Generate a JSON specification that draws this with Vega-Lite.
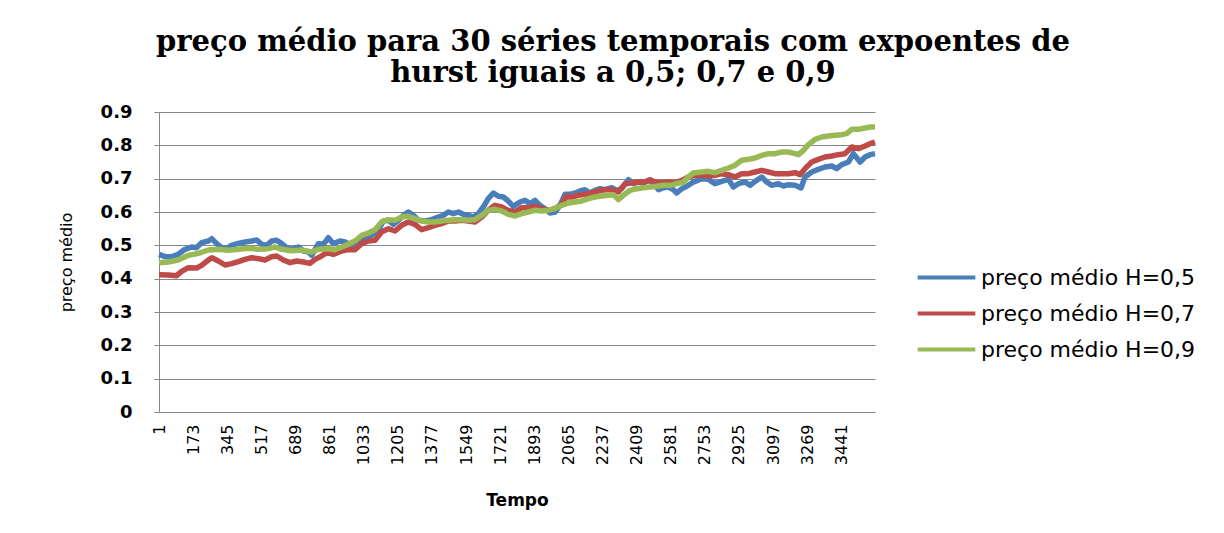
{
  "$schema": "https://vega.github.io/schema/vega-lite/v6.json",
  "width": 716,
  "height": 300,
  "autosize": {"type": "none"},
  "padding": {"left": 159, "top": 112, "right": 349, "bottom": 121},
  "background": "white",
  "title": {
    "text": ["preço médio para 30 séries temporais com expoentes de", "hurst iguais a 0,5; 0,7 e 0,9"],
    "font": "DejaVu Serif",
    "fontWeight": "bold",
    "fontSize": 29,
    "lineHeight": 31,
    "anchor": "middle",
    "frame": "group",
    "dx": 96,
    "offset": 15,
    "color": "black"
  },
  "config": {
    "view": {"stroke": null},
    "axis": {"domainColor": "#868686", "gridColor": "#868686", "tickColor": "#868686", "labelColor": "black", "titleColor": "black"},
    "legend": {"orient": "none", "legendX": 767, "legendY": 145}
  },
  "datasets": {
    "h05": [
      {"t":1,"v":0.473},{"t":31,"v":0.466},{"t":65,"v":0.466},{"t":98,"v":0.473},{"t":132,"v":0.488},{"t":166,"v":0.495},{"t":191,"v":0.493},{"t":216,"v":0.508},{"t":250,"v":0.513},{"t":267,"v":0.52},{"t":292,"v":0.505},{"t":317,"v":0.493},{"t":342,"v":0.49},{"t":367,"v":0.5},{"t":401,"v":0.506},{"t":435,"v":0.51},{"t":468,"v":0.513},{"t":494,"v":0.516},{"t":519,"v":0.503},{"t":544,"v":0.5},{"t":569,"v":0.513},{"t":594,"v":0.515},{"t":620,"v":0.505},{"t":645,"v":0.493},{"t":670,"v":0.488},{"t":704,"v":0.495},{"t":729,"v":0.483},{"t":754,"v":0.48},{"t":771,"v":0.47},{"t":788,"v":0.488},{"t":805,"v":0.505},{"t":830,"v":0.503},{"t":855,"v":0.523},{"t":880,"v":0.505},{"t":913,"v":0.513},{"t":939,"v":0.51},{"t":972,"v":0.5},{"t":1006,"v":0.513},{"t":1040,"v":0.523},{"t":1073,"v":0.53},{"t":1107,"v":0.545},{"t":1132,"v":0.573},{"t":1157,"v":0.575},{"t":1183,"v":0.563},{"t":1208,"v":0.575},{"t":1233,"v":0.59},{"t":1258,"v":0.6},{"t":1283,"v":0.59},{"t":1309,"v":0.575},{"t":1342,"v":0.573},{"t":1376,"v":0.577},{"t":1409,"v":0.585},{"t":1435,"v":0.59},{"t":1460,"v":0.6},{"t":1485,"v":0.595},{"t":1510,"v":0.6},{"t":1535,"v":0.593},{"t":1561,"v":0.59},{"t":1586,"v":0.585},{"t":1611,"v":0.595},{"t":1636,"v":0.615},{"t":1661,"v":0.64},{"t":1687,"v":0.657},{"t":1712,"v":0.647},{"t":1737,"v":0.645},{"t":1762,"v":0.633},{"t":1787,"v":0.617},{"t":1821,"v":0.63},{"t":1846,"v":0.635},{"t":1872,"v":0.625},{"t":1897,"v":0.635},{"t":1922,"v":0.62},{"t":1947,"v":0.61},{"t":1972,"v":0.597},{"t":1998,"v":0.6},{"t":2023,"v":0.62},{"t":2048,"v":0.653},{"t":2073,"v":0.653},{"t":2099,"v":0.657},{"t":2124,"v":0.663},{"t":2149,"v":0.667},{"t":2174,"v":0.657},{"t":2199,"v":0.665},{"t":2225,"v":0.67},{"t":2250,"v":0.667},{"t":2283,"v":0.673},{"t":2309,"v":0.665},{"t":2334,"v":0.67},{"t":2368,"v":0.697},{"t":2393,"v":0.685},{"t":2418,"v":0.69},{"t":2443,"v":0.687},{"t":2468,"v":0.695},{"t":2494,"v":0.687},{"t":2519,"v":0.667},{"t":2544,"v":0.673},{"t":2569,"v":0.675},{"t":2594,"v":0.667},{"t":2611,"v":0.657},{"t":2637,"v":0.67},{"t":2662,"v":0.677},{"t":2687,"v":0.687},{"t":2704,"v":0.692},{"t":2737,"v":0.7},{"t":2771,"v":0.698},{"t":2804,"v":0.685},{"t":2838,"v":0.692},{"t":2872,"v":0.698},{"t":2897,"v":0.675},{"t":2922,"v":0.685},{"t":2956,"v":0.69},{"t":2981,"v":0.68},{"t":3014,"v":0.695},{"t":3040,"v":0.705},{"t":3065,"v":0.69},{"t":3090,"v":0.68},{"t":3124,"v":0.685},{"t":3149,"v":0.678},{"t":3174,"v":0.682},{"t":3208,"v":0.68},{"t":3238,"v":0.672},{"t":3258,"v":0.705},{"t":3292,"v":0.72},{"t":3325,"v":0.728},{"t":3359,"v":0.735},{"t":3393,"v":0.738},{"t":3418,"v":0.73},{"t":3443,"v":0.742},{"t":3477,"v":0.75},{"t":3502,"v":0.775},{"t":3536,"v":0.75},{"t":3561,"v":0.765},{"t":3586,"v":0.772},{"t":3611,"v":0.775}
    ],
    "h07": [
      {"t":1,"v":0.412},{"t":48,"v":0.411},{"t":90,"v":0.409},{"t":115,"v":0.422},{"t":149,"v":0.433},{"t":191,"v":0.432},{"t":216,"v":0.44},{"t":250,"v":0.456},{"t":267,"v":0.463},{"t":300,"v":0.453},{"t":334,"v":0.441},{"t":367,"v":0.445},{"t":401,"v":0.451},{"t":435,"v":0.458},{"t":468,"v":0.463},{"t":502,"v":0.46},{"t":536,"v":0.456},{"t":569,"v":0.466},{"t":594,"v":0.468},{"t":628,"v":0.456},{"t":662,"v":0.448},{"t":695,"v":0.453},{"t":729,"v":0.45},{"t":762,"v":0.446},{"t":788,"v":0.458},{"t":821,"v":0.468},{"t":847,"v":0.478},{"t":880,"v":0.473},{"t":922,"v":0.483},{"t":955,"v":0.487},{"t":989,"v":0.487},{"t":1023,"v":0.505},{"t":1056,"v":0.513},{"t":1090,"v":0.515},{"t":1123,"v":0.54},{"t":1157,"v":0.55},{"t":1191,"v":0.543},{"t":1224,"v":0.56},{"t":1258,"v":0.57},{"t":1291,"v":0.563},{"t":1325,"v":0.547},{"t":1359,"v":0.553},{"t":1392,"v":0.56},{"t":1426,"v":0.565},{"t":1460,"v":0.573},{"t":1493,"v":0.573},{"t":1527,"v":0.575},{"t":1560,"v":0.573},{"t":1594,"v":0.57},{"t":1628,"v":0.585},{"t":1661,"v":0.605},{"t":1695,"v":0.62},{"t":1729,"v":0.615},{"t":1762,"v":0.605},{"t":1796,"v":0.6},{"t":1830,"v":0.613},{"t":1863,"v":0.613},{"t":1897,"v":0.617},{"t":1930,"v":0.61},{"t":1964,"v":0.605},{"t":1998,"v":0.61},{"t":2031,"v":0.623},{"t":2057,"v":0.647},{"t":2082,"v":0.645},{"t":2115,"v":0.65},{"t":2149,"v":0.653},{"t":2183,"v":0.657},{"t":2216,"v":0.663},{"t":2250,"v":0.667},{"t":2283,"v":0.667},{"t":2317,"v":0.66},{"t":2351,"v":0.685},{"t":2384,"v":0.687},{"t":2418,"v":0.69},{"t":2452,"v":0.69},{"t":2477,"v":0.697},{"t":2502,"v":0.69},{"t":2536,"v":0.687},{"t":2569,"v":0.69},{"t":2603,"v":0.687},{"t":2637,"v":0.695},{"t":2670,"v":0.705},{"t":2704,"v":0.71},{"t":2737,"v":0.71},{"t":2771,"v":0.708},{"t":2804,"v":0.71},{"t":2838,"v":0.715},{"t":2872,"v":0.712},{"t":2905,"v":0.705},{"t":2939,"v":0.715},{"t":2972,"v":0.715},{"t":3006,"v":0.72},{"t":3040,"v":0.725},{"t":3073,"v":0.72},{"t":3107,"v":0.715},{"t":3141,"v":0.715},{"t":3174,"v":0.715},{"t":3208,"v":0.718},{"t":3233,"v":0.712},{"t":3258,"v":0.73},{"t":3292,"v":0.75},{"t":3325,"v":0.758},{"t":3359,"v":0.765},{"t":3393,"v":0.768},{"t":3426,"v":0.772},{"t":3460,"v":0.775},{"t":3494,"v":0.795},{"t":3527,"v":0.79},{"t":3561,"v":0.798},{"t":3586,"v":0.805},{"t":3611,"v":0.81}
    ],
    "h09": [
      {"t":1,"v":0.448},{"t":48,"v":0.45},{"t":98,"v":0.456},{"t":149,"v":0.47},{"t":199,"v":0.476},{"t":250,"v":0.486},{"t":300,"v":0.488},{"t":351,"v":0.485},{"t":401,"v":0.488},{"t":452,"v":0.491},{"t":502,"v":0.488},{"t":552,"v":0.49},{"t":586,"v":0.495},{"t":620,"v":0.488},{"t":670,"v":0.484},{"t":720,"v":0.486},{"t":771,"v":0.48},{"t":805,"v":0.488},{"t":855,"v":0.49},{"t":888,"v":0.487},{"t":922,"v":0.495},{"t":955,"v":0.503},{"t":989,"v":0.513},{"t":1023,"v":0.53},{"t":1056,"v":0.537},{"t":1090,"v":0.547},{"t":1123,"v":0.57},{"t":1157,"v":0.577},{"t":1191,"v":0.575},{"t":1224,"v":0.585},{"t":1258,"v":0.587},{"t":1291,"v":0.58},{"t":1325,"v":0.573},{"t":1359,"v":0.57},{"t":1392,"v":0.57},{"t":1426,"v":0.573},{"t":1460,"v":0.575},{"t":1493,"v":0.577},{"t":1527,"v":0.577},{"t":1560,"v":0.575},{"t":1594,"v":0.577},{"t":1628,"v":0.59},{"t":1661,"v":0.605},{"t":1695,"v":0.608},{"t":1729,"v":0.603},{"t":1762,"v":0.593},{"t":1796,"v":0.588},{"t":1830,"v":0.595},{"t":1863,"v":0.6},{"t":1897,"v":0.605},{"t":1930,"v":0.603},{"t":1964,"v":0.605},{"t":1998,"v":0.61},{"t":2031,"v":0.62},{"t":2065,"v":0.627},{"t":2099,"v":0.63},{"t":2132,"v":0.633},{"t":2166,"v":0.64},{"t":2199,"v":0.645},{"t":2233,"v":0.648},{"t":2267,"v":0.65},{"t":2292,"v":0.652},{"t":2317,"v":0.637},{"t":2342,"v":0.65},{"t":2376,"v":0.665},{"t":2410,"v":0.67},{"t":2443,"v":0.673},{"t":2477,"v":0.675},{"t":2510,"v":0.677},{"t":2544,"v":0.68},{"t":2578,"v":0.68},{"t":2611,"v":0.685},{"t":2645,"v":0.69},{"t":2670,"v":0.705},{"t":2695,"v":0.717},{"t":2737,"v":0.72},{"t":2771,"v":0.722},{"t":2804,"v":0.718},{"t":2838,"v":0.725},{"t":2872,"v":0.732},{"t":2905,"v":0.74},{"t":2939,"v":0.755},{"t":2972,"v":0.758},{"t":3006,"v":0.762},{"t":3040,"v":0.77},{"t":3073,"v":0.775},{"t":3107,"v":0.775},{"t":3141,"v":0.78},{"t":3174,"v":0.78},{"t":3208,"v":0.775},{"t":3225,"v":0.772},{"t":3250,"v":0.785},{"t":3275,"v":0.802},{"t":3309,"v":0.818},{"t":3342,"v":0.825},{"t":3376,"v":0.828},{"t":3410,"v":0.83},{"t":3443,"v":0.832},{"t":3468,"v":0.835},{"t":3494,"v":0.848},{"t":3527,"v":0.848},{"t":3561,"v":0.852},{"t":3586,"v":0.855},{"t":3611,"v":0.855}
    ]
  },
  "encoding": {
    "x": {
      "field": "t",
      "type": "quantitative",
      "scale": {"domain": [1, 3611], "nice": false, "zero": false},
      "axis": {
        "title": "Tempo",
        "titleFont": "DejaVu Sans",
        "titleFontSize": 17,
        "titleFontWeight": "bold",
        "titlePadding": 28,
        "values": [1, 173, 345, 517, 689, 861, 1033, 1205, 1377, 1549, 1721, 1893, 2065, 2237, 2409, 2581, 2753, 2925, 3097, 3269, 3441],
        "labelAngle": -90,
        "labelFont": "DejaVu Sans",
        "labelFontSize": 16,
        "labelPadding": 12,
        "ticks": false,
        "grid": false,
        "format": "d",
        "labelOverlap": false,
        "labelBound": false
      }
    },
    "y": {
      "field": "v",
      "type": "quantitative",
      "scale": {"domain": [0, 0.9], "nice": false},
      "axis": {
        "title": "preço médio",
        "titleFont": "DejaVu Sans",
        "titleFontSize": 16,
        "titleFontWeight": "normal",
        "titlePadding": 26,
        "values": [0, 0.1, 0.2, 0.3, 0.4, 0.5, 0.6, 0.7, 0.8, 0.9],
        "labelExpr": "datum.value == 0 ? '0' : format(datum.value, '.1f')",
        "labelFont": "DejaVu Sans",
        "labelFontSize": 18,
        "labelFontWeight": "bold",
        "labelPadding": 22,
        "tickSize": 5,
        "grid": true,
        "gridWidth": 1
      }
    }
  },
  "layer": [
    {
      "data": {"name": "h05"},
      "mark": {"type": "line", "strokeWidth": 5.5, "strokeJoin": "round"},
      "encoding": {"color": {"datum": "preço médio H=0,5"}}
    },
    {
      "data": {"name": "h07"},
      "mark": {"type": "line", "strokeWidth": 5.5, "strokeJoin": "round"},
      "encoding": {"color": {"datum": "preço médio H=0,7"}}
    },
    {
      "data": {"name": "h09"},
      "mark": {"type": "line", "strokeWidth": 5.5, "strokeJoin": "round"},
      "encoding": {
        "color": {
          "datum": "preço médio H=0,9",
          "scale": {
            "domain": ["preço médio H=0,5", "preço médio H=0,7", "preço médio H=0,9"],
            "range": ["#4A7EBB", "#BE4B48", "#98B954"]
          },
          "legend": {
            "title": null,
            "symbolType": "M-1.6,0H1.6",
            "symbolSize": 1300,
            "symbolStrokeWidth": 4,
            "labelFont": "DejaVu Sans",
            "labelFontSize": 22,
            "labelColor": "black",
            "labelOffset": 14,
            "labelLimit": 400,
            "rowPadding": 4,
            "padding": 0
          }
        }
      }
    }
  ]
}
